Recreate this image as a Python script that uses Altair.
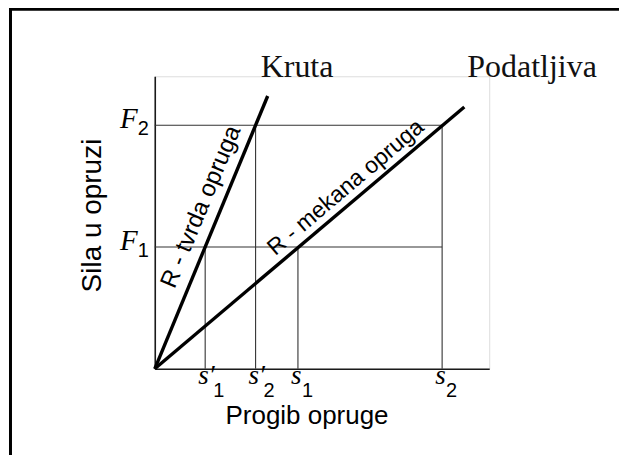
import altair as alt
import pandas as pd

# ---------------- data ----------------
spring_names = ["Kruta", "Podatljiva"]
spring_labels = ["R - tvrda opruga", "R - mekana opruga"]
spring_x_end = [2.24, 6.14]
spring_y_end = [2.24, 2.15]

force_letters = ["F", "F"]
force_subs = ["1", "2"]
force_values = [1.0, 2.0]

defl_letters = ["s′", "s′", "s", "s"]
defl_subs = ["1", "2", "1", "2"]
defl_values = [1.0, 2.0, 2.84, 5.70]
defl_force = [1.0, 2.0, 1.0, 2.0]
defl_primed = [True, True, False, False]

label_x = [1.27, 3.98]
label_y = [1.27, 1.395]

x_max = 6.634
y_max = 2.402

# ---------------- tables ----------------
springs = pd.DataFrame({
    "name": spring_names, "label": spring_labels,
    "x0": [0.0, 0.0], "y0": [0.0, 0.0],
    "x1": spring_x_end, "y1": spring_y_end,
    "lx": label_x, "ly": label_y,
})

guides = pd.DataFrame(
    [{"x": 0.0, "x2": max(defl_values), "y": f, "y2": f} for f in force_values]
    + [{"x": s, "x2": s, "y": 0.0, "y2": h} for s, h in zip(defl_values, defl_force)]
)

forces = pd.DataFrame({"letter": force_letters, "sub": force_subs,
                       "x": [0.0] * len(force_values), "y": force_values})
defls = pd.DataFrame({"letter": defl_letters, "sub": defl_subs, "x": defl_values,
                      "y": [0.0] * len(defl_values), "primed": defl_primed})

xs = alt.Scale(domain=[0, x_max], nice=False, zero=True)
ys = alt.Scale(domain=[0, y_max], nice=False, zero=True)

x_axis = alt.Axis(title="Progib opruge", labels=False, ticks=False, grid=False,
                  domainColor="#1a1a1a", domainWidth=1.6,
                  titleFont="Liberation Sans", titleFontSize=26, titleFontWeight="normal",
                  titleColor="#000000", titleX=152, titleY=55,
                  titleAlign="center", titleBaseline="alphabetic")
y_axis = alt.Axis(title="Sila u opruzi", labels=False, ticks=False, grid=False,
                  domainColor="#1a1a1a", domainWidth=1.6,
                  titleFont="Liberation Sans", titleFontSize=28, titleFontWeight="normal",
                  titleColor="#000000", titleAngle=270, titleX=-62, titleY=139,
                  titleAlign="center", titleBaseline="middle")


def X(field):
    return alt.X(f"{field}:Q", scale=xs, axis=x_axis)


def Y(field):
    return alt.Y(f"{field}:Q", scale=ys, axis=y_axis)


# page frame: left and top edges
frame_base = alt.Chart(pd.DataFrame({"k": [0]}))
frame_left = frame_base.mark_rule(color="#000000", strokeWidth=3).encode(
    x=alt.value(-144.5), y=alt.value(-68.5), y2=alt.value(460)
)
frame_top = frame_base.mark_rule(color="#000000", strokeWidth=3).encode(
    x=alt.value(-146), x2=alt.value(480), y=alt.value(-67)
)

guide_layer = alt.Chart(guides).mark_rule(color="#333333", strokeWidth=1.1).encode(
    x=X("x"), x2="x2", y=Y("y"), y2="y2"
)

spring_layer = alt.Chart(springs).mark_rule(color="#000000", strokeWidth=3.4, strokeCap="butt").encode(
    x=X("x0"), x2="x1", y=Y("y0"), y2="y1"
)

layers = [frame_left, frame_top, guide_layer, spring_layer]

# spring names (Kruta / Podatljiva)
name_offsets = {"Kruta": (-7, -19), "Podatljiva": (3, -30)}
for nm in spring_names:
    dx, dy = name_offsets[nm]
    layers.append(
        alt.Chart(springs).transform_filter(alt.datum.name == nm).mark_text(
            font="Liberation Serif", fontSize=32, color="#111111",
            align="left", baseline="alphabetic", dx=dx, dy=dy
        ).encode(x=X("x1"), y=Y("y1"), text="name:N")
    )

# rotated labels along the lines
label_style = {"R - tvrda opruga": (292.5, -19, 24), "R - mekana opruga": (319.7, -15, 23)}
for lb in spring_labels:
    ang, dy, fs = label_style[lb]
    layers.append(
        alt.Chart(springs).transform_filter(alt.datum.label == lb).mark_text(
            font="Liberation Sans", fontSize=fs, color="#000000",
            align="center", baseline="middle", angle=ang, dy=dy
        ).encode(x=X("lx"), y=Y("ly"), text="label:N")
    )

# force tick labels
layers.append(
    alt.Chart(forces).mark_text(font="Liberation Serif", fontStyle="italic", fontSize=29,
                                color="#000000", align="right", baseline="alphabetic",
                                dx=-17, dy=3).encode(x=X("x"), y=Y("y"), text="letter:N")
)
layers.append(
    alt.Chart(forces).mark_text(font="Liberation Sans", fontSize=20, color="#000000",
                                align="right", baseline="alphabetic",
                                dx=-6, dy=10).encode(x=X("x"), y=Y("y"), text="sub:N")
)

# deflection tick labels
layers.append(
    alt.Chart(defls).mark_text(font="Liberation Serif", fontStyle="italic", fontSize=27,
                               color="#000000", align="left", baseline="alphabetic",
                               dx=-7, dy=15).encode(x=X("x"), y=Y("y"), text="letter:N")
)
for primed, dx in [(True, 8), (False, 4)]:
    layers.append(
        alt.Chart(defls).transform_filter(alt.datum.primed == primed).mark_text(
            font="Liberation Sans", fontSize=20, color="#000000",
            align="left", baseline="alphabetic", dx=dx, dy=28
        ).encode(x=X("x"), y=Y("y"), text="sub:N")
    )

chart = alt.layer(*layers).properties(
    width=335, height=293,
    padding={"left": 147, "top": 68, "right": 130, "bottom": 86},
    autosize=alt.AutoSizeParams(type="none"),
).configure_view(stroke=None).configure(background="white")

chart.save("out.html", embed_options={"renderer": "svg", "actions": False})
